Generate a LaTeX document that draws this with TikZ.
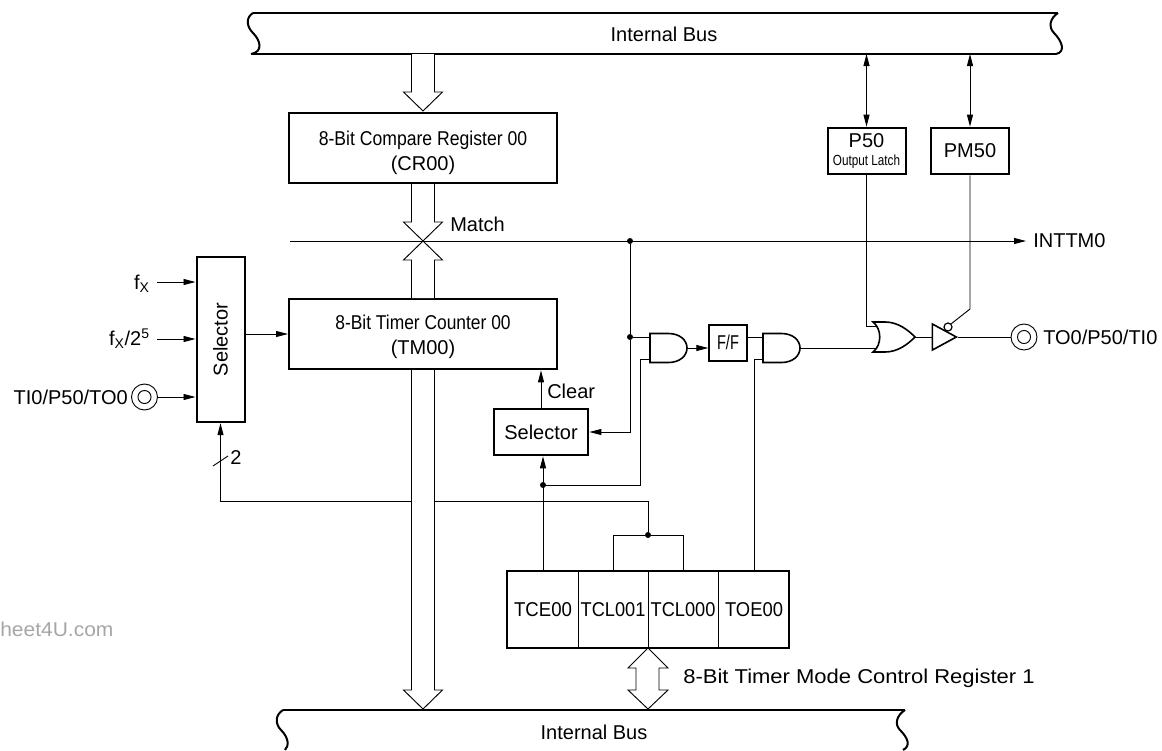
\documentclass[tikz,border=0pt]{standalone}
\usepackage{fontspec}
\setmainfont{Liberation Sans}
\usepackage{graphicx}
\usepackage{tikz}
\usetikzlibrary{arrows.meta,calc,shapes.geometric}

% hollow bus arrow, shaft 23 wide, head 39 wide, #3 = head length with sign
\newcommand{\busarrow}[3]{%
  \draw[hollow] ($(#1)+(-11.5,0)$) -- ($(#2)+(-11.5,#3)$) -- ($(#2)+(-19.5,#3)$) -- (#2)
    -- ($(#2)+(19.5,#3)$) -- ($(#2)+(11.5,#3)$) -- ($(#1)+(11.5,0)$);
}
% horizontal squeeze of a label
\newcommand{\sq}[2]{\scalebox{#1}[1]{#2}}

\begin{document}
\begin{tikzpicture}[
    x=0.75pt, y=-0.75pt,
    font=\fontsize{15}{18.75}\selectfont,
    regbox/.style={draw, line width=1.5pt, fill=white, align=center, inner sep=0pt},
    gateline/.style={draw, line width=1.2pt, fill=white},
    wire/.style={line width=0.7pt},
    arrow/.style={wire, -{Triangle[length=9pt,width=4.5pt]}},
    twoway/.style={wire, {Triangle[length=9pt,width=4.5pt]}-{Triangle[length=9pt,width=4.5pt]}},
    hollow/.style={wire, fill=white},
    busline/.style={line width=1.5pt},
    dot/.style={circle, fill=black, inner sep=0pt, minimum size=4.5pt},
    label/.style={inner sep=0pt, align=center},
    pin/.style={draw, circle, wire, inner sep=0pt, minimum size=19.5pt, path picture={\draw[wire] (path picture bounding box.center) circle (4.9pt);}},
    andshape/.pic={
        \path[gateline] (-18.5,-14.5) -- (0,-14.5) .. controls (11,-14.5) and (18.5,-8) .. (18.5,0)
            .. controls (18.5,8) and (11,14.5) .. (0,14.5) -- (-18.5,14.5) -- cycle;
        \coordinate (-in1) at (-18.5,-11);
        \coordinate (-in2) at (-18.5,11);
        \coordinate (-out) at (18.5,0);
    },
    orshape/.pic={
        \path[gateline] (-21,-15) -- (-9,-15) .. controls (4,-15) and (14,-7) .. (21,0)
            .. controls (14,7) and (4,15) .. (-9,15) -- (-21,15)
            .. controls (-12,8) and (-12,-8) .. (-21,-15) -- cycle;
        \coordinate (-in1) at (-17,-11);
        \coordinate (-in2) at (-17,11);
        \coordinate (-out) at (21,0);
    }
]
\useasboundingbox (0,0) rectangle (1162,750);

% --- buses ---
\coordinate (busa) at (423,54);
\coordinate (busb) at (423,709);
\coordinate (busc) at (648,709);
\draw[busline] (253,13) -- (1058,13);
\draw[busline] (253,13) .. controls (245,18) and (247,27) .. (253,33) .. controls (261,41) and (263,52) .. (251,54);
\draw[busline] (1058,13) .. controls (1050,18) and (1048,27) .. (1054,33) .. controls (1062,41) and (1066,52) .. (1056,54);
\draw[wire, line width=1pt] (251,54) -- (1056,54);
\node[label] (bustop) at (664,34) {Internal Bus};

\draw[busline] (283,710) -- (905,710);
\draw[busline] (283,710) .. controls (275,715) and (275,724) .. (281,730) .. controls (289,738) and (289,746) .. (285,750);
\draw[busline] (905,710) .. controls (897,715) and (894,724) .. (900,730) .. controls (908,738) and (911,746) .. (903,750);
\node[label] (busbottom) at (594,732) {Internal Bus};

% --- registers ---
\node[regbox, minimum width=201pt, minimum height=53pt] (cr) at (423,148) {};
\node[label] (crtext) at (423,152.5) {\sq{0.88}{8-Bit Compare Register 00}\\(CR00)};
\node[regbox, minimum width=201pt, minimum height=53pt] (tm) at (423,334) {};
\node[label] (tmtext) at (423,336.5) {\sq{0.87}{8-Bit Timer Counter 00}\\(TM00)};
\node[regbox, minimum width=36pt, minimum height=124pt] (selb) at (220.5,339.5) {\rotatebox{90}{Selector}};
\node[regbox, minimum width=71pt, minimum height=35pt] (selc) at (541,432) {Selector};
\node[regbox, minimum width=58.5pt, minimum height=35pt, font=\fontsize{15}{16}\selectfont] (ptl) at (866.5,151) {P50\\[-2pt]\fontsize{11}{12}\selectfont\sq{0.8}{Output Latch}};
\node[regbox, minimum width=58.5pt, minimum height=35pt] (pm) at (970,151) {PM50};
\node[regbox, minimum width=28pt, minimum height=27pt] (ff) at (728,342.5) {\sq{0.73}{F/F}};

\node[regbox, minimum width=211.5pt, minimum height=57.5pt] (ctl) at (648,609.5) {};
\node[label] (tce) at (543,609.5) {\sq{0.93}{TCE00}};
\node[label] (tclb) at (613,609.5) {\sq{0.91}{TCL001}};
\node[label] (tcla) at (683,609.5) {\sq{0.91}{TCL000}};
\node[label] (toe) at (754,609.5) {\sq{0.92}{TOE00}};
\draw[wire] (ctl.north -| 578,0) -- (ctl.south -| 578,0);
\draw[wire] (ctl.north) -- (ctl.south);
\draw[wire] (ctl.north -| 718,0) -- (ctl.south -| 718,0);

% --- gates ---
\pic (anda) at (668.5,348) {andshape};
\pic (andb) at (781.5,348) {andshape};
\pic (orout) at (894,337) {orshape};
\node[isosceles triangle, isosceles triangle apex angle=57, draw, line width=1.2pt, inner sep=0pt, minimum height=18pt, minimum width=19pt, anchor=apex] (buf) at (958,337) {};

% --- pins and labels ---
\node[pin] (pinin) at (144.5,397) {};
\node[pin] (pinout) at (1024,337) {};
\node[label, anchor=east] (fxa) at (150,284) {f\textsubscript{X}};
\node[label, anchor=east] (fxb) at (150,339) {f\textsubscript{X}/2\textsuperscript{5}};
\node[label, anchor=east] (tiin) at (128,397) {TI0/P50/TO0};
\node[label, anchor=west] (toout) at (1043,337) {TO0/P50/TI0};
\node[label, anchor=west] (inttm) at (1033,241) {INTTM0};
\node[label, anchor=west] (match) at (450,224) {Match};
\node[label, anchor=west] (clr) at (547,391) {Clear};
\node[label] (two) at (236,458) {2};
\node[label, anchor=west] (mode) at (683,678) {\sq{1.1}{8-Bit Timer Mode Control Register 1}};
\node[label, anchor=west, text=black!35] (mark) at (0,629) {\sq{1.05}{heet4U.com}};

% --- junctions ---
\node[dot] (dmatch) at (630,241) {};
\node[dot] (dand) at (630,337) {};
\node[dot] (dctl) at (543,485) {};
\node[dot] (dtcl) at (648,535) {};
\coordinate (mstart) at (290,241);
\coordinate (mend) at (1026,241);

% --- wires ---
\draw[arrow] (mstart) -- (mend);
\draw[wire] (dmatch) -- (dand);
\draw[arrow] (dand) |- (selc.east);
\draw[wire] (dand) -- (anda-in1);
\draw[wire] (dctl) -| ($(anda-in2)+(-10,0)$) -- (anda-in2);
\draw[arrow] (anda-out) -- (ff.west |- anda-out);
\draw[wire] (ff.east |- andb-in1) -- (andb-in1);
\draw[wire] (toe.north |- ctl.north) |- (andb-in2);
\draw[wire] (andb-out) -- (orout-in2);
\draw[wire] (ptl.south) |- (orout-in1);
\draw[wire] (orout-out) -- (buf.west);
\draw[wire] (buf.apex) -- (pinout.west);
\node[draw, circle, line width=0.9pt, inner sep=0pt, minimum size=6pt, fill=white] (bub) at (948,327) {};
\draw[wire] (pm.south) -- (970,309) -- (bub.north east);
\draw[twoway] (busa -| ptl) -- (ptl.north);
\draw[twoway] (busa -| pm) -- (pm.north);

\draw[arrow] (157,282) -- (selb.west |- 0,282);
\draw[arrow] (157,339) -- (selb.west |- 0,339);
\draw[arrow] (pinin.east) -- (selb.west |- pinin);
\draw[arrow] (selb.east |- tm.west) -- (tm.west);
\draw[arrow] (dtcl) -- (648,501) -| (selb.south);
\draw[wire] (213,466) -- (228,456);
\draw[arrow] (selc.north) -- (tm.south -| selc);
\draw[arrow] (tce.north |- ctl.north) -- (selc.south -| tce.north);
\draw[wire] (613,570) |- (dtcl) -| (683,570);

% --- bus arrows ---
\coordinate (crin) at (423,111);
\coordinate (crout) at (423,184);
\coordinate (xtip) at (423,241);
\coordinate (tmtop) at (423,298);
\coordinate (tmbot) at (423,370);
\busarrow{busa}{crin}{-19}
\busarrow{crout}{xtip}{-19}
\busarrow{tmtop}{xtip}{19}
\busarrow{tmbot}{busb}{-19}
\coordinate (ctlb) at (648,648);
\draw[hollow] (ctlb) -- (668,668) -- (659,668) -- (659,690) -- (668,690) -- (busc) -- (628,690) -- (636,690) -- (636,668) -- (628,668) -- cycle;

\end{tikzpicture}
\end{document}
